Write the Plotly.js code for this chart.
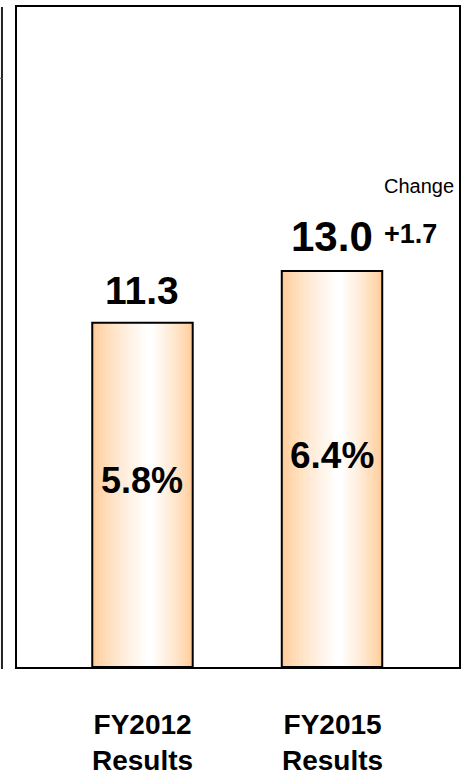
<!DOCTYPE html>
<html>
<head>
<meta charset="utf-8">
<script src="https://cdn.plot.ly/plotly-3.0.1.min.js"></script>
<style>html,body{margin:0;padding:0;background:#fff;}#chart{width:461px;height:775px;}</style>
</head>
<body>
<div id="chart"></div>
<script>
// ---- data ----
const categories = ['FY2012', 'FY2015'];
const categoryLabels = ['FY2012<br>Results', 'FY2015<br>Results'];
const values = [11.3, 13.0];
const valueLabels = ['11.3', '13.0'];
const shareLabels = ['5.8%', '6.4%'];
const changeCaption = 'Change';
const changeLabel = '+1.7';

// ---- styling ----
const BAR_W = 0.53;
const EDGE = [255, 204, 153];
const CENTER = [255, 255, 255];
const LAYERS = 16;
const WHITE_POS = 0.57;
const FONT = 'Liberation Sans, Arial, sans-serif';
const valueSizes = [39, 42];
const shareSizes = [36, 37];

const traces = [];
for (let i = 0; i < LAYERS; i++) {
  const t = i / (LAYERS - 1);
  const w = BAR_W * (1 - t * 0.92);
  const off = -BAR_W / 2 + (BAR_W - w) * WHITE_POS;
  const c = EDGE.map((e, k) => Math.round(e + (CENTER[k] - e) * Math.pow(t, 0.8)));
  traces.push({
    type: 'bar', x: categories, y: values,
    width: w, offset: off,
    marker: {color: `rgb(${c[0]},${c[1]},${c[2]})`, line: {width: 0}},
    hoverinfo: 'skip', showlegend: false
  });
}
// outline
traces.push({
  type: 'bar', x: categories, y: values,
  width: BAR_W, offset: -BAR_W / 2,
  marker: {color: 'rgba(0,0,0,0)', line: {width: 2, color: '#000'}},
  hoverinfo: 'skip', showlegend: false
});

const annotations = [];
categories.forEach((c, i) => {
  annotations.push({x: c, y: values[i], xref: 'x', yref: 'y', text: '<b>' + valueLabels[i] + '</b>',
    showarrow: false, yanchor: 'bottom', yshift: 9, font: {size: valueSizes[i], color: '#000', family: FONT}});
  annotations.push({x: c, y: values[i] / 2, xref: 'x', yref: 'y', text: '<b>' + shareLabels[i] + '</b>',
    showarrow: false, yanchor: 'middle', yshift: 14, font: {size: shareSizes[i], color: '#000', family: FONT}});
  annotations.push({x: c, y: 0, xref: 'x', yref: 'y', text: '<b>' + categoryLabels[i] + '</b>',
    showarrow: false, yanchor: 'top', yshift: -40, font: {size: 28, color: '#000', family: FONT}});
});
annotations.push({x: 1, y: values[1], xref: 'x', yref: 'y', text: '<b>' + changeLabel + '</b>',
  showarrow: false, xanchor: 'left', yanchor: 'bottom', xshift: 50, yshift: 20, font: {size: 27, color: '#000', family: FONT}});
annotations.push({x: 1, y: values[1], xref: 'x', yref: 'y', text: changeCaption,
  showarrow: false, xanchor: 'left', yanchor: 'bottom', xshift: 50, yshift: 72, font: {size: 20, color: '#000', family: FONT}});

const layout = {
  width: 461, height: 775,
  margin: {l: 17, r: 2, t: 7, b: 108, pad: 0},
  paper_bgcolor: '#fff', plot_bgcolor: '#fff',
  barmode: 'overlay',
  showlegend: false,
  xaxis: {type: 'category', range: [-0.662, 1.670], showgrid: false, zeroline: false, showticklabels: false, ticks: '',
    showline: true, linecolor: '#000', linewidth: 2, mirror: true, fixedrange: true},
  yaxis: {range: [0, 21.67], showgrid: false, zeroline: false, showticklabels: false, ticks: '',
    showline: true, linecolor: '#000', linewidth: 2, mirror: true, fixedrange: true},
  annotations: annotations,
  shapes: [
    {type: 'line', xref: 'paper', yref: 'paper', x0: -0.034, x1: -0.034, y0: 1.0, y1: -0.003, line: {color: '#222', width: 2}},
    {type: 'line', xref: 'paper', yref: 'paper', x0: -0.04, x1: -0.032, y0: 0.892, y1: 0.892, line: {color: '#555', width: 1}}
  ]
};

Plotly.newPlot('chart', traces, layout, {displayModeBar: false, staticPlot: true});
</script>
</body>
</html>
